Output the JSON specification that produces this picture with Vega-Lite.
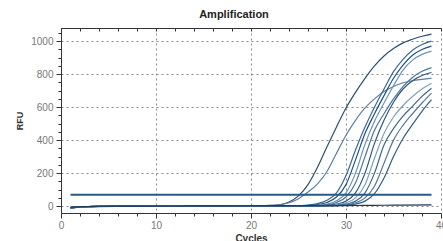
{
  "$schema": "https://vega.github.io/schema/vega-lite/v6.json",
  "width": 380,
  "height": 185,
  "autosize": {"type": "none"},
  "padding": {"left": 61, "top": 28, "right": 2, "bottom": 28},
  "background": "white",
  "config": {"font": "Liberation Sans", "view": {"stroke": null}},
  "title": {"text": "Amplification", "fontSize": 11, "fontWeight": "bold", "color": "#222", "anchor": "middle", "dx": -17, "offset": 8},
  "datasets": {
    "curves": [
      {"s":"A","c":1,"v":-12},{"s":"A","c":2,"v":-7},{"s":"A","c":4,"v":-3},{"s":"A","c":8,"v":0},{"s":"A","c":14,"v":1},{"s":"A","c":19,"v":1},{"s":"A","c":21,"v":2},{"s":"A","c":22,"v":4},{"s":"A","c":23,"v":8},{"s":"A","c":24,"v":25},{"s":"A","c":25,"v":62},{"s":"A","c":26,"v":130},{"s":"A","c":27,"v":235},{"s":"A","c":28,"v":360},{"s":"A","c":29,"v":480},{"s":"A","c":30,"v":595},{"s":"A","c":31,"v":690},{"s":"A","c":32,"v":775},{"s":"A","c":33,"v":850},{"s":"A","c":34,"v":910},{"s":"A","c":35,"v":955},{"s":"A","c":36,"v":990},{"s":"A","c":37,"v":1012},{"s":"A","c":38,"v":1030},{"s":"A","c":39,"v":1043},
      {"s":"B","c":1,"v":-10},{"s":"B","c":2,"v":-6},{"s":"B","c":4,"v":-2},{"s":"B","c":8,"v":0},{"s":"B","c":14,"v":0},{"s":"B","c":19,"v":1},{"s":"B","c":21,"v":2},{"s":"B","c":22,"v":3},{"s":"B","c":23,"v":8},{"s":"B","c":24,"v":20},{"s":"B","c":25,"v":45},{"s":"B","c":26,"v":85},{"s":"B","c":27,"v":135},{"s":"B","c":28,"v":210},{"s":"B","c":29,"v":320},{"s":"B","c":30,"v":430},{"s":"B","c":31,"v":520},{"s":"B","c":32,"v":595},{"s":"B","c":33,"v":650},{"s":"B","c":34,"v":695},{"s":"B","c":35,"v":725},{"s":"B","c":36,"v":748},{"s":"B","c":37,"v":760},{"s":"B","c":38,"v":768},{"s":"B","c":39,"v":775},
      {"s":"C1","c":1,"v":-11},{"s":"C1","c":2,"v":-6},{"s":"C1","c":4,"v":-2},{"s":"C1","c":8,"v":0},{"s":"C1","c":14,"v":1},{"s":"C1","c":20,"v":1},{"s":"C1","c":24,"v":1},{"s":"C1","c":25,"v":3},{"s":"C1","c":26,"v":6},{"s":"C1","c":27,"v":15},{"s":"C1","c":28,"v":35},{"s":"C1","c":29,"v":80},{"s":"C1","c":30,"v":185},{"s":"C1","c":31,"v":340},{"s":"C1","c":32,"v":480},{"s":"C1","c":33,"v":600},{"s":"C1","c":34,"v":710},{"s":"C1","c":35,"v":815},{"s":"C1","c":36,"v":890},{"s":"C1","c":37,"v":945},{"s":"C1","c":38,"v":980},{"s":"C1","c":39,"v":1000},
      {"s":"C2","c":1,"v":-9},{"s":"C2","c":2,"v":-5},{"s":"C2","c":4,"v":-2},{"s":"C2","c":8,"v":0},{"s":"C2","c":14,"v":0},{"s":"C2","c":20,"v":1},{"s":"C2","c":24,"v":1},{"s":"C2","c":25,"v":2},{"s":"C2","c":26,"v":4},{"s":"C2","c":27,"v":9},{"s":"C2","c":28,"v":22},{"s":"C2","c":29,"v":55},{"s":"C2","c":30,"v":130},{"s":"C2","c":31,"v":280},{"s":"C2","c":32,"v":440},{"s":"C2","c":33,"v":560},{"s":"C2","c":34,"v":670},{"s":"C2","c":35,"v":775},{"s":"C2","c":36,"v":855},{"s":"C2","c":37,"v":915},{"s":"C2","c":38,"v":950},{"s":"C2","c":39,"v":970},
      {"s":"C3","c":1,"v":-10},{"s":"C3","c":2,"v":-6},{"s":"C3","c":4,"v":-2},{"s":"C3","c":8,"v":0},{"s":"C3","c":14,"v":1},{"s":"C3","c":20,"v":1},{"s":"C3","c":25,"v":1},{"s":"C3","c":26,"v":2},{"s":"C3","c":27,"v":5},{"s":"C3","c":28,"v":12},{"s":"C3","c":29,"v":32},{"s":"C3","c":30,"v":80},{"s":"C3","c":31,"v":200},{"s":"C3","c":32,"v":375},{"s":"C3","c":33,"v":515},{"s":"C3","c":34,"v":625},{"s":"C3","c":35,"v":730},{"s":"C3","c":36,"v":825},{"s":"C3","c":37,"v":885},{"s":"C3","c":38,"v":920},{"s":"C3","c":39,"v":940},
      {"s":"C4","c":1,"v":-8},{"s":"C4","c":2,"v":-5},{"s":"C4","c":4,"v":-1},{"s":"C4","c":8,"v":0},{"s":"C4","c":14,"v":0},{"s":"C4","c":20,"v":1},{"s":"C4","c":26,"v":1},{"s":"C4","c":27,"v":3},{"s":"C4","c":28,"v":8},{"s":"C4","c":29,"v":22},{"s":"C4","c":30,"v":55},{"s":"C4","c":31,"v":140},{"s":"C4","c":32,"v":300},{"s":"C4","c":33,"v":460},{"s":"C4","c":34,"v":560},{"s":"C4","c":35,"v":650},{"s":"C4","c":36,"v":725},{"s":"C4","c":37,"v":780},{"s":"C4","c":38,"v":818},{"s":"C4","c":39,"v":840},
      {"s":"C5","c":1,"v":-10},{"s":"C5","c":2,"v":-6},{"s":"C5","c":4,"v":-2},{"s":"C5","c":8,"v":0},{"s":"C5","c":14,"v":0},{"s":"C5","c":20,"v":0},{"s":"C5","c":26,"v":1},{"s":"C5","c":27,"v":2},{"s":"C5","c":28,"v":5},{"s":"C5","c":29,"v":12},{"s":"C5","c":30,"v":30},{"s":"C5","c":31,"v":80},{"s":"C5","c":32,"v":200},{"s":"C5","c":33,"v":380},{"s":"C5","c":34,"v":520},{"s":"C5","c":35,"v":630},{"s":"C5","c":36,"v":710},{"s":"C5","c":37,"v":760},{"s":"C5","c":38,"v":792},{"s":"C5","c":39,"v":810},
      {"s":"C6","c":1,"v":-9},{"s":"C6","c":2,"v":-5},{"s":"C6","c":4,"v":-2},{"s":"C6","c":8,"v":0},{"s":"C6","c":14,"v":1},{"s":"C6","c":20,"v":0},{"s":"C6","c":27,"v":1},{"s":"C6","c":28,"v":3},{"s":"C6","c":29,"v":8},{"s":"C6","c":30,"v":20},{"s":"C6","c":31,"v":50},{"s":"C6","c":32,"v":130},{"s":"C6","c":33,"v":290},{"s":"C6","c":34,"v":440},{"s":"C6","c":35,"v":540},{"s":"C6","c":36,"v":610},{"s":"C6","c":37,"v":665},{"s":"C6","c":38,"v":710},{"s":"C6","c":39,"v":745},
      {"s":"C7","c":1,"v":-12},{"s":"C7","c":2,"v":-7},{"s":"C7","c":4,"v":-2},{"s":"C7","c":8,"v":0},{"s":"C7","c":14,"v":0},{"s":"C7","c":20,"v":1},{"s":"C7","c":28,"v":2},{"s":"C7","c":29,"v":5},{"s":"C7","c":30,"v":12},{"s":"C7","c":31,"v":30},{"s":"C7","c":32,"v":80},{"s":"C7","c":33,"v":200},{"s":"C7","c":34,"v":370},{"s":"C7","c":35,"v":470},{"s":"C7","c":36,"v":545},{"s":"C7","c":37,"v":605},{"s":"C7","c":38,"v":665},{"s":"C7","c":39,"v":715},
      {"s":"C8","c":1,"v":-10},{"s":"C8","c":2,"v":-6},{"s":"C8","c":4,"v":-2},{"s":"C8","c":8,"v":0},{"s":"C8","c":14,"v":1},{"s":"C8","c":20,"v":0},{"s":"C8","c":28,"v":1},{"s":"C8","c":29,"v":3},{"s":"C8","c":30,"v":8},{"s":"C8","c":31,"v":20},{"s":"C8","c":32,"v":50},{"s":"C8","c":33,"v":120},{"s":"C8","c":34,"v":260},{"s":"C8","c":35,"v":400},{"s":"C8","c":36,"v":490},{"s":"C8","c":37,"v":560},{"s":"C8","c":38,"v":625},{"s":"C8","c":39,"v":685},
      {"s":"C9","c":1,"v":-9},{"s":"C9","c":2,"v":-5},{"s":"C9","c":4,"v":-1},{"s":"C9","c":8,"v":0},{"s":"C9","c":14,"v":0},{"s":"C9","c":20,"v":0},{"s":"C9","c":29,"v":2},{"s":"C9","c":30,"v":5},{"s":"C9","c":31,"v":12},{"s":"C9","c":32,"v":30},{"s":"C9","c":33,"v":75},{"s":"C9","c":34,"v":170},{"s":"C9","c":35,"v":300},{"s":"C9","c":36,"v":410},{"s":"C9","c":37,"v":495},{"s":"C9","c":38,"v":575},{"s":"C9","c":39,"v":645},
      {"s":"N","c":1,"v":-6},{"s":"N","c":2,"v":-4},{"s":"N","c":4,"v":-1},{"s":"N","c":8,"v":0},{"s":"N","c":14,"v":1},{"s":"N","c":19,"v":2},{"s":"N","c":20,"v":2},{"s":"N","c":24,"v":3},{"s":"N","c":28,"v":2},{"s":"N","c":30,"v":3},{"s":"N","c":32,"v":4},{"s":"N","c":34,"v":5},{"s":"N","c":36,"v":6},{"s":"N","c":39,"v":7}
    ],
    "threshold": [
      {"c": 1, "v": 68},
      {"c": 39, "v": 68}
    ]
  },
  "layer": [
    {
      "data": {"name": "curves"},
      "mark": {"type": "line", "interpolate": "monotone", "strokeWidth": 1.2, "clip": true},
      "encoding": {
        "x": {
          "field": "c", "type": "quantitative",
          "scale": {"domain": [0, 40], "nice": false, "zero": false},
          "axis": {
            "orient": "bottom",
            "title": "Cycles",
            "values": [0,2,4,6,8,10,12,14,16,18,20,22,24,26,28,30,32,34,36,38,40],
            "format": "d",
            "labelExpr": "datum.value % 10 === 0 ? datum.label : ''",
            "labelOverlap": false,
            "labelBound": false,
            "labelFlush": false,
            "labelFontSize": 10,
            "labelColor": "#777",
            "labelPadding": 2,
            "grid": true,
            "gridDash": [2, 3],
            "gridColor": "#8a8a8a",
            "gridOpacity": {"condition": {"test": "datum.value % 10 === 0", "value": 1}, "value": 0},
            "tickSize": {"condition": {"test": "datum.value % 10 === 0", "value": 5}, "value": 3},
            "tickColor": "#333",
            "domainColor": "#333",
            "titleFontSize": 10,
            "titleFontWeight": "bold",
            "titleColor": "#333",
            "titlePadding": 3
          }
        },
        "y": {
          "field": "v", "type": "quantitative",
          "scale": {"domain": [-42, 1080], "nice": false, "zero": false},
          "axis": {
            "orient": "left",
            "title": "RFU",
            "values": [0,50,100,150,200,250,300,350,400,450,500,550,600,650,700,750,800,850,900,950,1000,1050],
            "format": "d",
            "labelExpr": "datum.value % 200 === 0 ? datum.label : ''",
            "labelOverlap": false,
            "labelBound": false,
            "labelFlush": false,
            "labelFontSize": 10,
            "labelColor": "#777",
            "labelPadding": 3,
            "grid": true,
            "gridDash": [2, 3],
            "gridColor": "#8a8a8a",
            "gridOpacity": {"condition": {"test": "datum.value % 200 === 0", "value": 1}, "value": 0},
            "tickSize": {"condition": {"test": "datum.value % 200 === 0", "value": 5}, "value": 3},
            "tickColor": "#333",
            "domainColor": "#333",
            "titleFontSize": 9,
            "titleFontWeight": "bold",
            "titleColor": "#333",
            "titlePadding": 6
          }
        },
        "color": {
          "field": "s", "type": "nominal", "legend": null,
          "scale": {
            "domain": ["A","B","C1","C2","C3","C4","C5","C6","C7","C8","C9","N"],
            "range": ["#2b4f72","#5b7fa3","#3a6a96","#22527e","#6f93b8","#4a76a0","#30587f","#7fa0c0","#3e6990","#56799c","#2f5d88","#1d3a57"]
          }
        }
      }
    },
    {
      "data": {"name": "threshold"},
      "mark": {"type": "line", "strokeWidth": 2, "color": "#2a5a82"},
      "encoding": {
        "x": {
          "field": "c", "type": "quantitative",
          "axis": {
            "orient": "top",
            "title": null,
            "labels": false,
            "grid": false,
            "values": [0,2,4,6,8,10,12,14,16,18,20,22,24,26,28,30,32,34,36,38,40],
            "tickSize": -3,
            "tickColor": "#333",
            "domainColor": "#333"
          }
        },
        "y": {"field": "v", "type": "quantitative", "axis": null}
      }
    }
  ],
  "resolve": {"axis": {"x": "independent", "y": "independent"}}
}
